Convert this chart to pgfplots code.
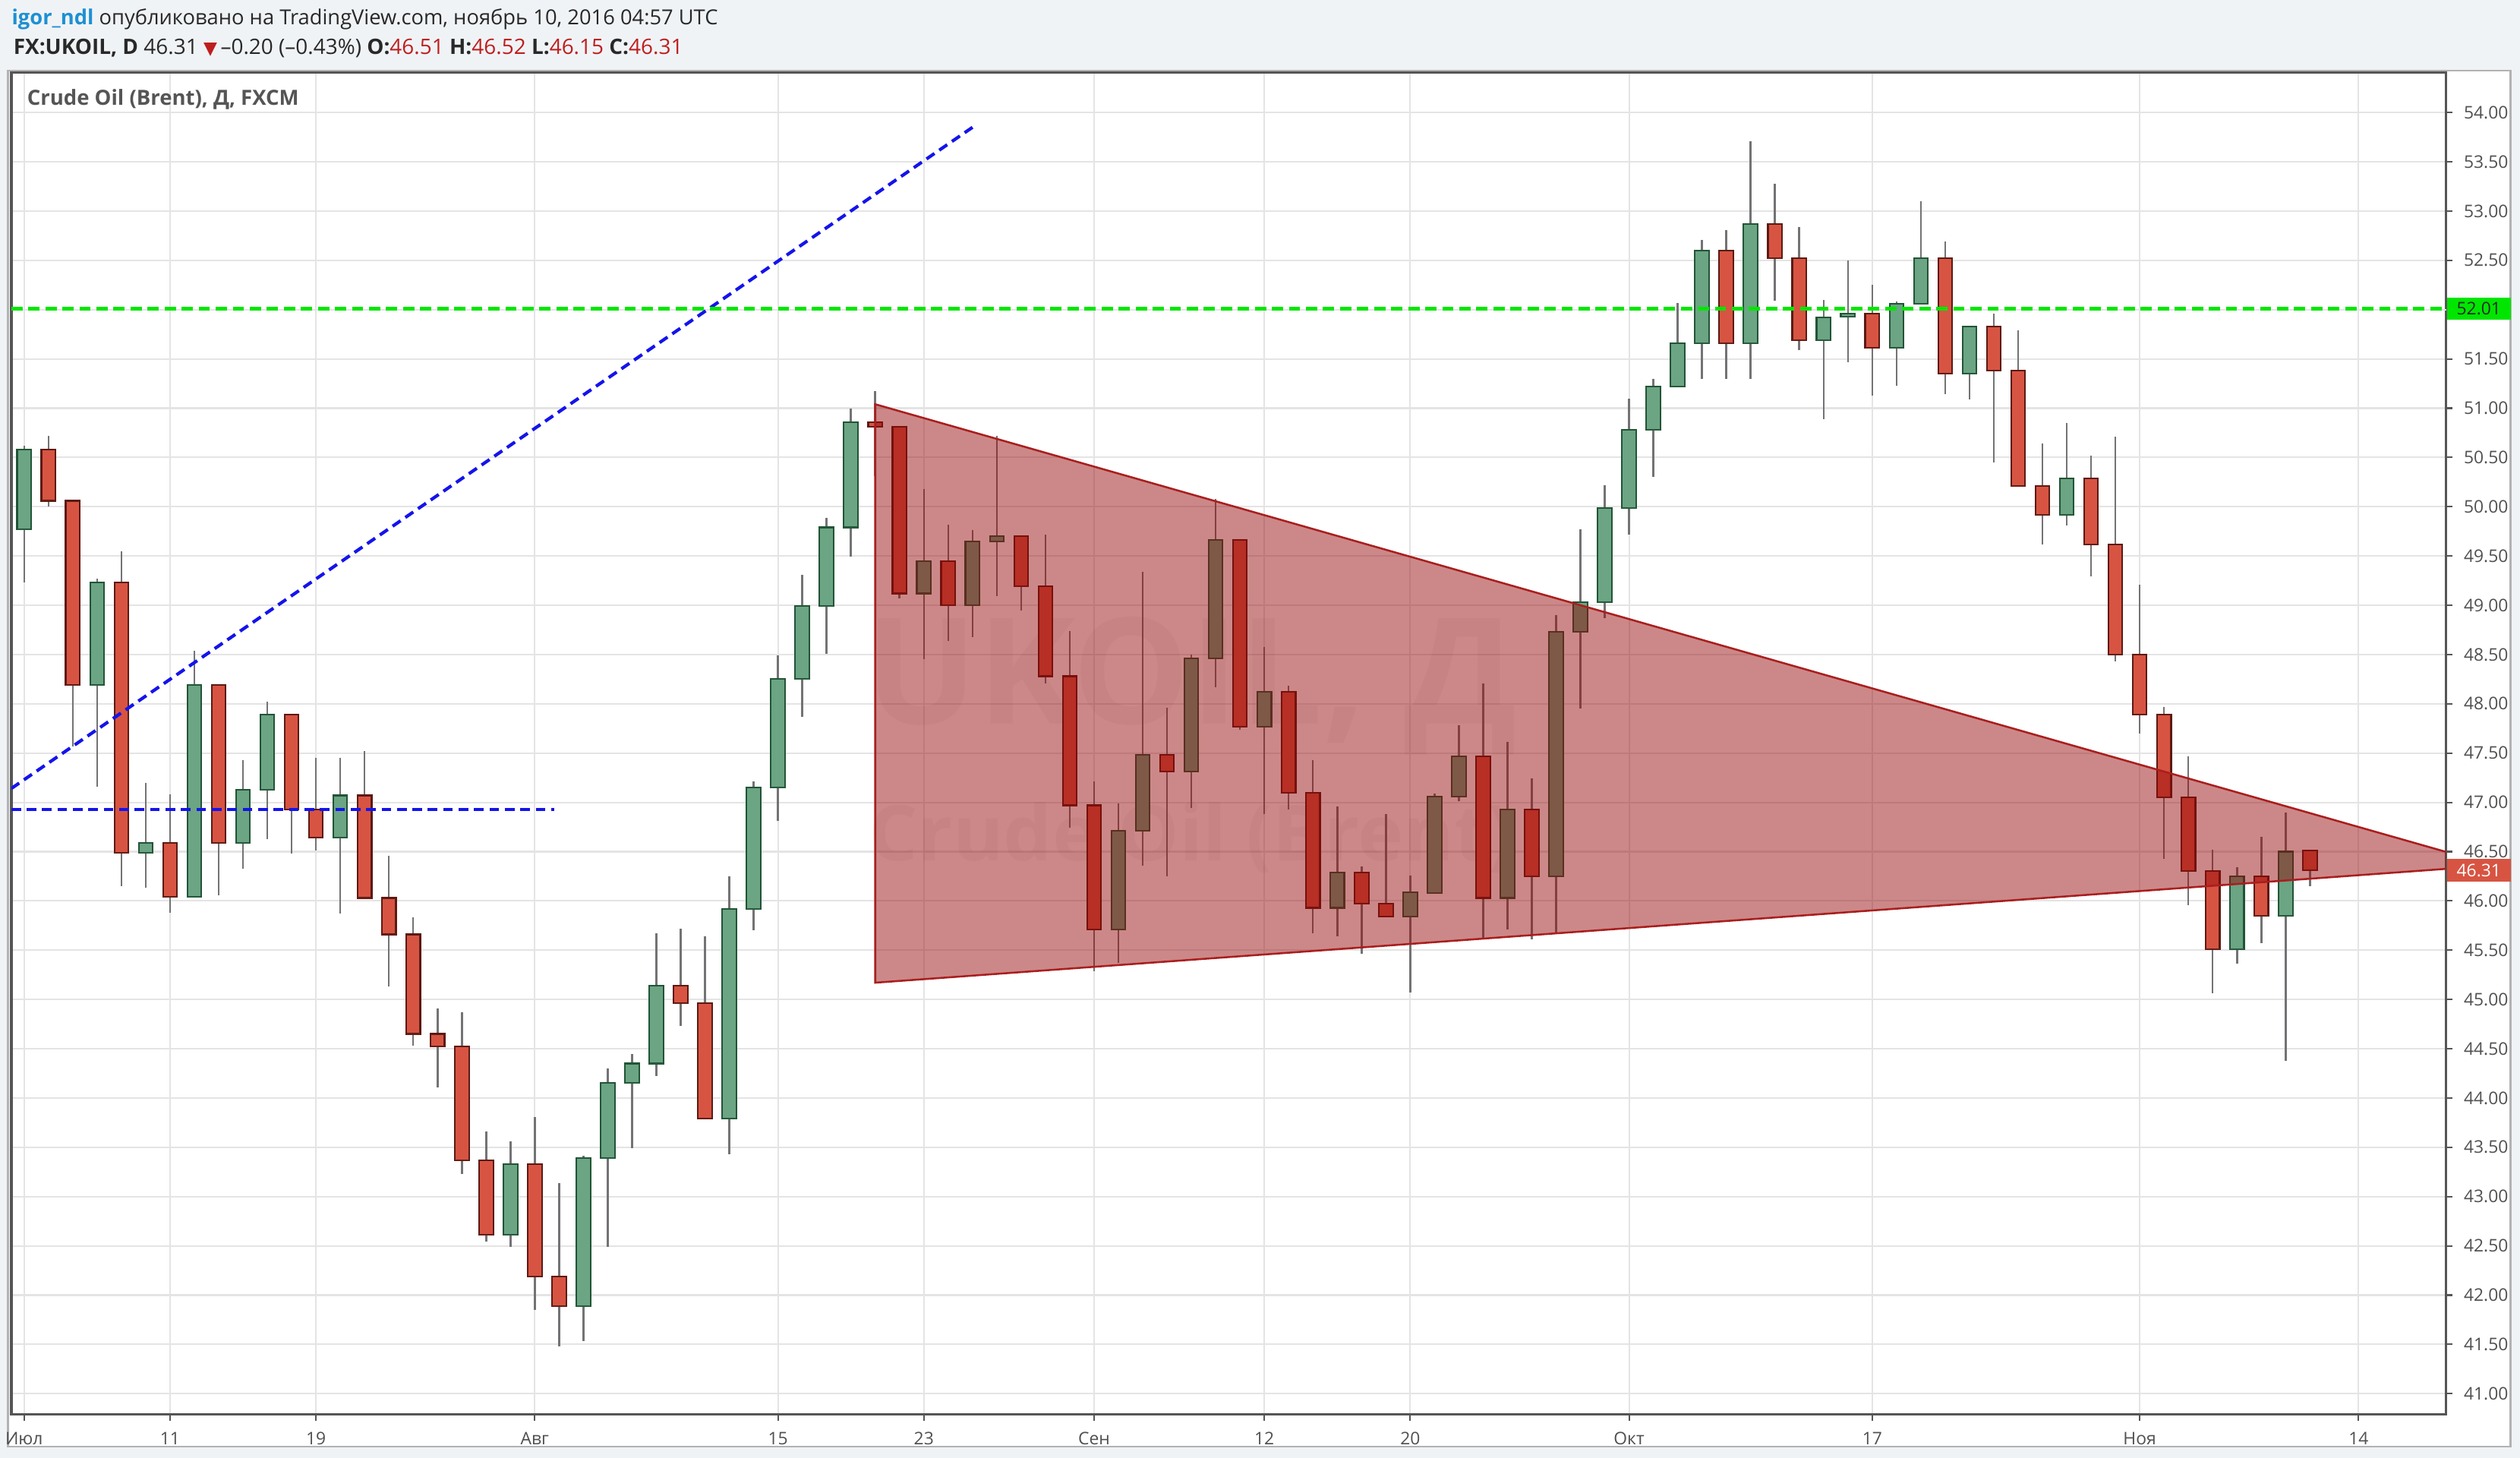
\documentclass[border=0pt]{standalone}
\usepackage{fontspec}
\setmainfont{Open Sans}
\newfontfamily\dejavu{DejaVu Sans}
\usepackage{pgfplots}
\pgfplotsset{compat=1.18}
\usepackage{pgfplotstable}
\usepgfplotslibrary{statistics}

\definecolor{bgcol}{RGB}{240,243,246}
\definecolor{upfill}{RGB}{107,165,131}
\definecolor{upedge}{RGB}{34,84,55}
\definecolor{dnfill}{RGB}{215,84,66}
\definecolor{dnedge}{RGB}{91,26,19}
\definecolor{wick}{RGB}{115,115,117}
\definecolor{gridcol}{RGB}{228,228,228}
\definecolor{axcol}{RGB}{85,85,85}
\definecolor{tickcol}{RGB}{80,80,80}
\definecolor{trifill}{RGB}{149,7,7}
\definecolor{triedge}{RGB}{170,30,30}
\definecolor{hlgreen}{RGB}{0,230,0}
\definecolor{hlblue}{RGB}{20,20,235}
\definecolor{userblue}{RGB}{30,144,210}
\definecolor{pricered}{RGB}{190,30,30}
\definecolor{hdrtext}{RGB}{40,40,40}
\definecolor{titletext}{RGB}{85,85,85}

\pgfplotstableread{
i O H L C
0 49.77 50.62 49.23 50.58
1 50.58 50.72 50.00 50.06
2 50.06 50.06 47.57 48.19
3 48.19 49.27 47.16 49.23
4 49.23 49.55 46.15 46.49
5 46.49 47.20 46.13 46.59
6 46.59 47.08 45.88 46.04
7 46.04 48.54 46.04 48.19
8 48.19 48.20 46.06 46.59
9 46.59 47.43 46.33 47.13
10 47.13 48.02 46.63 47.89
11 47.89 47.90 46.48 46.93
12 46.93 47.45 46.51 46.64
13 46.64 47.45 45.87 47.07
14 47.07 47.52 46.02 46.03
15 46.03 46.46 45.13 45.66
16 45.66 45.83 44.53 44.65
17 44.65 44.91 44.11 44.52
18 44.52 44.87 43.23 43.37
19 43.37 43.66 42.54 42.61
20 42.61 43.56 42.49 43.33
21 43.33 43.81 41.85 42.19
22 42.19 43.14 41.48 41.89
23 41.89 43.41 41.53 43.39
24 43.39 44.30 42.49 44.15
25 44.15 44.45 43.49 44.35
26 44.35 45.67 44.22 45.14
27 45.14 45.72 44.73 44.96
28 44.96 45.64 43.78 43.79
29 43.79 46.25 43.43 45.92
30 45.92 47.21 45.70 47.15
31 47.15 48.49 46.81 48.25
32 48.25 49.31 47.87 48.99
33 48.99 49.89 48.51 49.79
34 49.79 51.00 49.49 50.86
35 50.86 51.17 50.31 50.81
36 50.81 50.82 49.07 49.12
37 49.12 50.18 48.45 49.45
38 49.45 49.82 48.64 49.00
39 49.00 49.76 48.68 49.65
40 49.65 50.72 49.09 49.70
41 49.70 49.71 48.95 49.19
42 49.19 49.72 48.21 48.28
43 48.28 48.74 46.74 46.97
44 46.97 47.21 45.29 45.71
45 45.71 46.99 45.37 46.71
46 46.71 49.34 46.36 47.48
47 47.48 47.96 46.25 47.31
48 47.31 48.50 46.94 48.46
49 48.46 50.08 48.17 49.66
50 49.66 49.67 47.74 47.77
51 47.77 48.58 46.88 48.12
52 48.12 48.18 46.93 47.10
53 47.10 47.43 45.67 45.93
54 45.93 46.96 45.64 46.29
55 46.29 46.35 45.46 45.97
56 45.97 46.88 45.83 45.84
57 45.84 46.26 45.07 46.09
58 46.08 47.09 46.08 47.06
59 47.06 47.78 47.01 47.47
60 47.47 48.21 45.61 46.03
61 46.03 47.61 45.71 46.93
62 46.93 47.24 45.61 46.25
63 46.25 48.90 45.67 48.73
64 48.73 49.77 47.95 49.03
65 49.03 50.22 48.87 49.99
66 49.99 51.10 49.72 50.78
67 50.78 51.30 50.30 51.22
68 51.22 52.07 51.22 51.66
69 51.66 52.71 51.30 52.60
70 52.60 52.81 51.30 51.66
71 51.66 53.71 51.30 52.87
72 52.87 53.28 52.09 52.52
73 52.52 52.84 51.59 51.69
74 51.69 52.10 50.89 51.92
75 51.93 52.50 51.47 51.96
76 51.96 52.25 51.13 51.61
77 51.61 52.08 51.23 52.06
78 52.06 53.10 52.06 52.52
79 52.52 52.69 51.14 51.35
80 51.35 51.84 51.09 51.83
81 51.83 51.96 50.45 51.38
82 51.38 51.79 50.21 50.21
83 50.21 50.64 49.62 49.92
84 49.92 50.85 49.81 50.29
85 50.29 50.52 49.29 49.62
86 49.62 50.71 48.43 48.50
87 48.50 49.21 47.70 47.89
88 47.89 47.97 46.43 47.05
89 47.05 47.47 45.96 46.30
90 46.30 46.52 45.06 45.51
91 45.51 46.34 45.36 46.25
92 46.25 46.65 45.57 45.85
93 45.85 46.90 44.38 46.50
94 46.51 46.52 46.15 46.31
}\ohlc

\pgfplotsset{
  upc/.style={draw=upedge, fill=upfill, line width=0.5pt,
    boxplot/draw direction=y,
    boxplot/box extend=0.58, boxplot/whisker extend=0,
    boxplot/every whisker/.style={draw=wick, line width=0.6pt},
    boxplot/every median/.style={draw=none},
    boxplot/every box/.style={draw=upedge, fill=upfill, line width=0.5pt}},
  dnc/.style={draw=dnedge, fill=dnfill, line width=0.5pt,
    boxplot/draw direction=y,
    boxplot/box extend=0.58, boxplot/whisker extend=0,
    boxplot/every whisker/.style={draw=wick, line width=0.6pt},
    boxplot/every median/.style={draw=none},
    boxplot/every box/.style={draw=dnedge, fill=dnfill, line width=0.5pt}},
}

\begin{document}
\begin{tikzpicture}
\fill[bgcol] (-3.5pt,-13.5pt) rectangle (780.5pt,440pt);
\fill[white] (-1pt,-10pt) rectangle (777.5pt,418pt);
\draw[gray!60, line width=0.6pt] (-1pt,-10pt) rectangle (777.5pt,418pt);
\begin{axis}[
  at={(0,0)}, anchor=south west,
  scale only axis, width=757.5pt, height=417.5pt,
  xmin=-0.53, xmax=99.6, ymin=40.788, ymax=54.408,
  axis line style={draw=axcol, line width=0.8pt},
  grid=major, major grid style={draw=gridcol, line width=0.5pt},
  xtick={0,6,12,21,31,37,44,51,57,66,76,87,96},
  xticklabels={Июл,11,19,Авг,15,23,Сен,12,20,Окт,17,Ноя,14},
  ytick={41,41.5,42,42.5,43,43.5,44,44.5,45,45.5,46,46.5,47,47.5,48,48.5,49,49.5,50,50.5,51,51.5,52.5,53,53.5,54},
  extra y ticks={52}, extra y tick labels={},
  extra y tick style={grid=major, major grid style={draw=gridcol, line width=0.5pt}},
  xtick pos=left, ytick pos=right,
  xticklabel pos=left, yticklabel pos=right,
  tick align=outside, major tick length=2pt,
  tick style={draw=axcol, line width=0.5pt},
  /pgf/number format/assume math mode=true,
  yticklabel style={/pgf/number format/fixed, /pgf/number format/fixed zerofill, /pgf/number format/precision=2},
  tick label style={font=\fontsize{5.4}{6}\selectfont, text=tickcol},
  y tick label style={anchor=west, xshift=0pt},
  clip=true,
]
\node[text=black, opacity=0.035, font=\bfseries\fontsize{46}{50}\selectfont] at (axis cs:48,48.18) {UKOIL, Д};
\node[text=black, opacity=0.035, font=\bfseries\fontsize{24}{26}\selectfont] at (axis cs:48,46.64) {Crude Oil (Brent)};

\pgfplotsinvokeforeach{0,...,94}{%
  \pgfplotstablegetelem{#1}{O}\of\ohlc\let\vO\pgfplotsretval
  \pgfplotstablegetelem{#1}{H}\of\ohlc\let\vH\pgfplotsretval
  \pgfplotstablegetelem{#1}{L}\of\ohlc\let\vL\pgfplotsretval
  \pgfplotstablegetelem{#1}{C}\of\ohlc\let\vC\pgfplotsretval
  \pgfmathsetmacro\vlo{min(\vO,\vC)}%
  \pgfmathsetmacro\vhi{max(\vO,\vC)}%
  \pgfmathtruncatemacro\isup{\vC>=\vO}%
  \ifnum\isup=1 \def\cstyle{upc}\else\def\cstyle{dnc}\fi
  \edef\doplot{\noexpand\addplot[\cstyle, boxplot prepared={draw position=#1, lower whisker=\vL, lower quartile=\vlo, median=\vlo, upper quartile=\vhi, upper whisker=\vH}] coordinates {};}%
  \doplot
}

% triangle pattern
\addplot[draw=triedge, line width=0.6pt, fill=trifill, fill opacity=0.48] coordinates {(35,51.04) (35,45.17) (101.55,46.36)} -- cycle;
% trend lines
\addplot[hlblue, line width=1pt, dash pattern=on 3pt off 1.8pt] coordinates {(-0.53,47.14) (39,53.85)};
\addplot[hlblue, line width=1pt, dash pattern=on 3pt off 1.8pt] coordinates {(-0.53,46.93) (21.8,46.93)};
\addplot[hlgreen, line width=1pt, dash pattern=on 3.5pt off 1.8pt] coordinates {(-0.53,52.01) (99.6,52.01)};

\coordinate (b52) at (axis cs:99.6,52.01);
\coordinate (b46) at (axis cs:99.6,46.31);
\end{axis}

\node[fill=hlgreen, text=hdrtext, anchor=west, inner sep=0pt, minimum width=20pt, minimum height=7pt, font=\fontsize{5.4}{6}\selectfont] at (b52) {52.01};
\node[fill=dnfill, text=white, anchor=west, inner sep=0pt, minimum width=20pt, minimum height=7pt, font=\fontsize{5.4}{6}\selectfont] at (b46) {46.31};

\node[anchor=west, inner sep=0pt, font=\bfseries\fontsize{6.5}{7}\selectfont, text=titletext] at (4.75pt,409pt) {Crude Oil (Brent), Д, FXCM};

\node[anchor=west, inner sep=0pt, font=\fontsize{6.45}{7}\selectfont, text=hdrtext] at (0pt,434pt) {\textbf{\color{userblue}igor\_ndl} опубликовано на TradingView.com, ноябрь 10, 2016 04:57 UTC};
\node[anchor=west, inner sep=0pt, font=\fontsize{6.6}{7}\selectfont, text=hdrtext] at (0.5pt,425pt) {\textbf{FX:UKOIL, D} 46.31 {\dejavu\color{pricered}\fontsize{5.5}{6}\selectfont ▼}\,–0.20 (–0.43\%) \textbf{O:}{\color{pricered}46.51} \textbf{H:}{\color{pricered}46.52} \textbf{L:}{\color{pricered}46.15} \textbf{C:}{\color{pricered}46.31}};

\pgfresetboundingbox
\useasboundingbox (-3.5pt,-13.5pt) rectangle (780.5pt,440pt);
\end{tikzpicture}
\end{document}
